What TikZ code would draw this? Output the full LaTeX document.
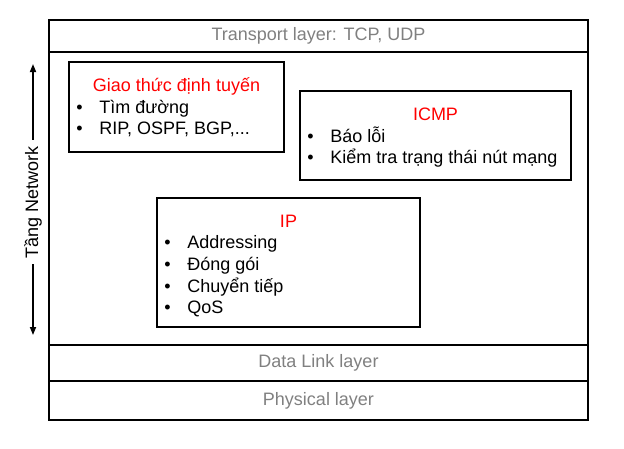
\documentclass[tikz,border=0pt]{standalone}
\usepackage{fontspec}
\setmainfont{Liberation Sans}
\usetikzlibrary{positioning,shadows,arrows.meta}
\begin{document}
\begin{tikzpicture}
		[	x=1pt,y=-1pt,
		layer/.style={rectangle,draw=black,line width=1.2pt,minimum width=539pt,inner sep=0pt,text=black!50,font=\fontsize{18}{21}\selectfont},
		protbox/.style={rectangle,draw=black,line width=1.6pt,fill=white,inner sep=0pt,drop shadow={shadow xshift=1.2pt,shadow yshift=-1.2pt,fill=black!40,opacity=.6}},
		title/.style={anchor=base,text=red,inner sep=0pt,font=\fontsize{18}{21}\selectfont},
		item/.style={anchor=base west,inner sep=0pt,font=\fontsize{18}{21}\selectfont}
		]
		\useasboundingbox (0,0) rectangle (624,448);

		% layers
		\node[layer,minimum height=32pt] (transport) at (318.5,36){Transport layer: TCP, UDP};
		\node[layer,minimum height=293pt] (network) at (318.5,198.5){};
		\node[layer,minimum height=36pt] (datalink) at (318.5,363){Data Link layer};
		\node[layer,minimum height=39pt] (physical) at (318.5,400.5){Physical layer};

		% protocols
		\node[protbox,minimum width=215pt,minimum height=90pt] (routing) at (176.5,107){};
		\node[protbox,minimum width=271pt,minimum height=89pt] (icmp) at (435.5,135.5){};
		\node[protbox,minimum width=263pt,minimum height=129pt] (ip) at (288.5,262.5){};

\node[title] (routingT) at ([yshift=-30pt]routing.north){Giao thức định tuyến};
\node[title] (icmpT) at ([yshift=-30pt]icmp.north){ICMP};
\node[title] (ipT) at ([yshift=-30pt]ip.north){IP};

\foreach \txt [count=\n] in {Tìm đường,{RIP, OSPF, BGP,{.}{.}{.}}}{
	\node[item] (routingB\n) at ([xshift=8pt,yshift=-30pt-21.8pt*\n]routing.north west){•};
	\node[item] (routingI\n) at ([xshift=31pt,yshift=-30pt-21.8pt*\n]routing.north west){\txt};
}
\foreach \txt [count=\n] in {Báo lỗi,Kiểm tra trạng thái nút mạng}{
	\node[item] (icmpB\n) at ([xshift=8pt,yshift=-30pt-21.8pt*\n]icmp.north west){•};
	\node[item] (icmpI\n) at ([xshift=31pt,yshift=-30pt-21.8pt*\n]icmp.north west){\txt};
}
\foreach \txt [count=\n] in {Addressing,Đóng gói,Chuyển tiếp,QoS}{
	\node[item] (ipB\n) at ([xshift=8pt,yshift=-30pt-21.6pt*\n]ip.north west){•};
	\node[item] (ipI\n) at ([xshift=31pt,yshift=-30pt-21.6pt*\n]ip.north west){\txt};
}

		% network arrow
		\node[rotate=90,inner sep=6pt,font=\fontsize{18}{21}\selectfont] (tang) at (33,202){Tầng Network};
		\coordinate (upend) at (33,64);
		\coordinate (downend) at (33,335);
		\draw[-{Triangle[length=8pt,width=6pt]}, line width=1.6pt] (tang.east) -- (upend);
		\draw[-{Triangle[length=8pt,width=6pt]}, line width=1.6pt] (tang.west) -- (downend);
	\end{tikzpicture}
\end{document}
